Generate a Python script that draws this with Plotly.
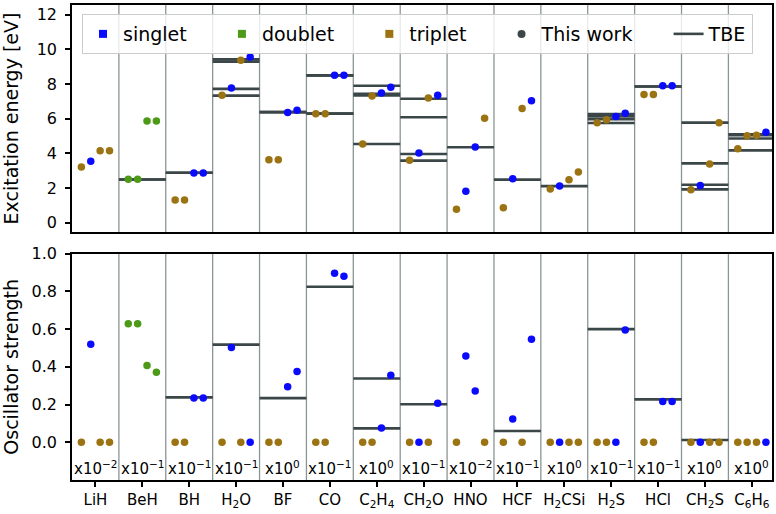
import plotly.graph_objects as go

# ---------------- data ----------------
molecules = ["LiH", "BeH", "BH", "H<sub>2</sub>O", "BF", "CO", "C<sub>2</sub>H<sub>4</sub>",
             "CH<sub>2</sub>O", "HNO", "HCF", "H<sub>2</sub>CSi", "H<sub>2</sub>S", "HCl",
             "CH<sub>2</sub>S", "C<sub>6</sub>H<sub>6</sub>"]

# spin of each of the four states per molecule (S singlet, D doublet, T triplet)
spins = [
    ["T", "S", "T", "T"], ["D", "D", "D", "D"], ["T", "T", "S", "S"], ["T", "S", "T", "S"],
    ["T", "T", "S", "S"], ["T", "T", "S", "S"], ["T", "T", "S", "S"], ["T", "S", "T", "S"],
    ["T", "S", "S", "T"], ["T", "S", "T", "S"], ["T", "S", "T", "T"], ["T", "T", "S", "S"],
    ["T", "T", "S", "S"], ["T", "S", "T", "T"], ["T", "T", "T", "S"],
]

# excitation energies from this work (eV)
energies = [
    [3.21, 3.55, 4.15, 4.15], [2.50, 2.50, 5.86, 5.86], [1.30, 1.30, 2.86, 2.86],
    [7.35, 7.77, 9.37, 9.56], [3.63, 3.63, 6.35, 6.48], [6.29, 6.29, 8.50, 8.50],
    [4.54, 7.31, 7.48, 7.81], [3.60, 4.02, 7.19, 7.35], [0.77, 1.81, 4.36, 6.02],
    [0.86, 2.54, 6.58, 7.04], [1.94, 2.11, 2.48, 2.92], [5.77, 5.94, 6.13, 6.31],
    [7.39, 7.39, 7.90, 7.90], [1.90, 2.15, 3.38, 5.77], [4.27, 5.02, 5.04, 5.21],
]

# theoretical best estimates of the energies (eV), None where absent
tbe_energies = [
    [None, None, None, None], [2.49, 2.49, None, None], [None, None, 2.88, 2.88],
    [7.33, 7.72, 9.29, 9.42], [None, None, 6.38, 6.38], [6.29, 6.29, 8.50, 8.50],
    [4.54, 7.34, 7.44, 7.90], [3.58, 3.96, 6.08, 7.15], [None, None, 4.35, None],
    [None, 2.48, None, None], [None, 2.11, None, None], [5.75, 5.97, 6.13, 6.27],
    [None, None, 7.86, 7.86], [1.92, 2.19, 3.42, 5.77], [4.17, 4.86, 5.05, 5.10],
]

# oscillator strengths from this work (scaled by the per-molecule factor)
osc = [
    [0, 0.52, 0, 0], [0.628, 0.628, 0.407, 0.372], [0, 0, 0.235, 0.235],
    [0, 0.502, 0, 0], [0, 0, 0.295, 0.375], [0, 0, 0.897, 0.880],
    [0, 0, 0.076, 0.356], [0, 0, 0, 0.207], [0, 0.457, 0.272, 0],
    [0, 0.124, 0, 0.547], [0, 0, 0, 0], [0, 0, 0, 0.596],
    [0, 0, 0.216, 0.216], [0, 0, 0, 0], [0, 0, 0, 0],
]

# TBE oscillator strengths (scaled), None where absent
tbe_osc = [
    [None, None, None, None], [None, None, None, None], [None, None, 0.239, 0.239],
    [None, 0.518, None, None], [None, None, 0.234, None], [None, None, 0.825, None],
    [None, None, 0.074, 0.338], [None, None, None, 0.202], [None, None, None, None],
    [None, 0.060, None, None], [None, None, None, None], [None, None, None, 0.600],
    [None, None, 0.228, 0.228], [None, 0.012, None, None], [None, None, None, None],
]

# scale exponent of the oscillator-strength panel per molecule
scale_exp = [-2, -1, -1, -1, 0, -1, 0, -1, -2, -1, 0, -1, -1, 0, 0]

spin_names = {"S": "singlet", "D": "doublet", "T": "triplet"}
spin_colors = {"S": "#0a0aff", "D": "#4c9a17", "T": "#9b7312"}
TBE_COLOR = "#3b4648"
SEP_COLOR = "#8a9595"
FONT = "DejaVu Sans"
PAD = "\u00a0" * 5

n = len(molecules)
slot_offset = [-0.3, -0.1, 0.1, 0.3]

fig = go.Figure()


def tbe_trace(vals, xa, ya):
    xs, ys = [], []
    for i in range(n):
        for v in vals[i]:
            if v is not None:
                xs += [i - 0.5, i + 0.5, None]
                ys += [v, v, None]
    return go.Scatter(x=xs, y=ys, mode="lines", line=dict(color=TBE_COLOR, width=2.6),
                      xaxis=xa, yaxis=ya, showlegend=False, hoverinfo="skip", name="TBE")


fig.add_trace(tbe_trace(tbe_energies, "x", "y"))
fig.add_trace(tbe_trace(tbe_osc, "x2", "y2"))

# points
for s in ["T", "D", "S"]:
    for vals, xa, ya in [(energies, "x", "y"), (osc, "x2", "y2")]:
        xs, ys = [], []
        for i in range(n):
            for k in range(4):
                if spins[i][k] == s:
                    xs.append(i + slot_offset[k])
                    ys.append(vals[i][k])
        fig.add_trace(go.Scatter(x=xs, y=ys, mode="markers",
                                 marker=dict(color=spin_colors[s], size=7.5, line=dict(width=0)),
                                 xaxis=xa, yaxis=ya, showlegend=False, name=spin_names[s]))

# legend entries
for s in ["S", "D", "T"]:
    fig.add_trace(go.Scatter(x=[None], y=[None], mode="markers", name=spin_names[s] + PAD,
                             marker=dict(color=spin_colors[s], symbol="square", size=8)))
fig.add_trace(go.Scatter(x=[None], y=[None], mode="markers", name="This work" + PAD,
                         marker=dict(color=TBE_COLOR, symbol="circle", size=8)))
fig.add_trace(go.Scatter(x=[None], y=[None], mode="lines", name="TBE",
                         line=dict(color=TBE_COLOR, width=2.6)))

# separators
shapes = []
for i in range(n - 1):
    for xr_, yr_ in [("x", "y domain"), ("x2", "y2 domain")]:
        shapes.append(dict(type="line", xref=xr_, yref=yr_, x0=i + 0.5, x1=i + 0.5, y0=0, y1=1,
                           line=dict(color=SEP_COLOR, width=1.3), layer="below"))

# scale labels
annotations = []
for i in range(n):
    e = scale_exp[i]
    es = ("\u2212" + str(-e)) if e < 0 else str(e)
    annotations.append(dict(x=i, y=-0.137, xref="x2", yref="y2", showarrow=False,
                            text="x10<sup>" + es + "</sup>",
                            font=dict(family=FONT, size=15, color="black")))

xr = [-0.5, 14.43]
axis_common = dict(showgrid=False, zeroline=False, showline=True, linecolor="black",
                   linewidth=1.6, mirror=True, automargin=False)

fig.update_layout(
    width=776, height=514,
    margin=dict(l=72, r=4, t=5, b=34),
    paper_bgcolor="white", plot_bgcolor="white",
    font=dict(family=FONT, size=16, color="black"),
    shapes=shapes, annotations=annotations,
    xaxis=dict(domain=[0, 1], range=xr, anchor="y", showticklabels=False, ticks="",
               **axis_common),
    yaxis=dict(domain=[0.5221, 1], range=[-0.54, 12.56], anchor="x",
               tickvals=[0, 2, 4, 6, 8, 10, 12], ticks="outside", ticklen=5, tickwidth=1.5,
               tickcolor="black", ticklabelstandoff=5,
               title=dict(text="Excitation energy [eV]", font=dict(size=19), standoff=15),
               **axis_common),
    xaxis2=dict(domain=[0, 1], range=xr, anchor="y2", matches="x",
                tickvals=list(range(n)), ticktext=molecules, ticks="outside", ticklen=5,
                tickwidth=1.5, tickcolor="black", tickfont=dict(size=15),
                ticklabelstandoff=0, **axis_common),
    yaxis2=dict(domain=[0, 0.4764], range=[-0.2, 1.0], anchor="x2",
                tickvals=[0, 0.2, 0.4, 0.6, 0.8, 1.0], tickformat=".1f", ticks="outside",
                ticklen=5, tickwidth=1.5, tickcolor="black", ticklabelstandoff=5,
                title=dict(text="Oscillator strength", font=dict(size=19), standoff=9),
                **axis_common),
    legend=dict(orientation="h", x=0.0143, y=0.981, xanchor="left", yanchor="top",
                bgcolor="rgba(255,255,255,0.8)", bordercolor="#cccccc", borderwidth=1,
                font=dict(size=19), itemwidth=30),
    showlegend=True,
)

fig.write_html("out.html",
               config={"displayModeBar": False},
               post_script="document.body.style.margin='0px';"
                           "document.body.style.overflow='hidden';")
